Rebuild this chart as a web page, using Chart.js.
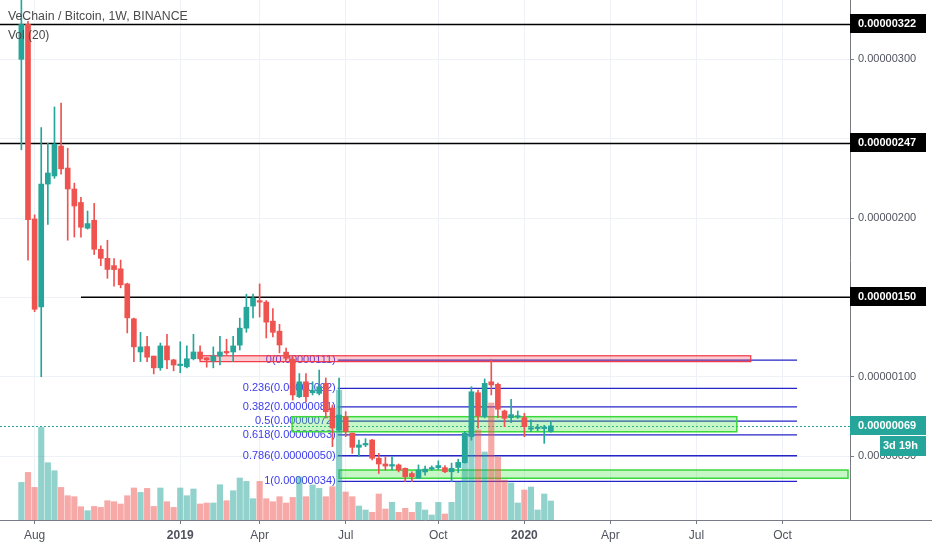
<!DOCTYPE html>
<html>
<head>
<meta charset="utf-8">
<script src="https://cdn.jsdelivr.net/npm/chart.js@4.4.1/dist/chart.umd.min.js"></script>
<style>
  html, body { margin: 0; padding: 0; background: #fff; }
  #wrap { width: 932px; height: 550px; }
</style>
</head>
<body>
<div id="wrap"><canvas id="chart" width="932" height="550"></canvas></div>
<script>
const ctx = document.getElementById('chart').getContext('2d');
const FONT = "'Liberation Sans', Arial, sans-serif";

// weekly candles VET/BTC, prices in satoshi (1e-8 BTC), first bar = Jul 2018
const opens  = [300, 322, 199.4, 144, 221.4, 226.5, 245.4, 231.5, 218.3, 209.8,
                193.6, 198.6, 180.3, 174.6, 170, 168, 158.5, 136.5, 115.6, 119,
                113, 105.6, 119.4, 110.6, 107, 106.2, 111.3, 115.6, 111.9, 110,
                113, 115.6, 115.6, 119.9, 130.6, 144.5, 147.7, 147, 135, 128.7,
                115.5, 111, 87.4, 96.8, 89.9, 89.5, 95.8, 80.3, 66.4, 74.8,
                64.4, 55.5, 57, 60.1, 48.6, 45, 43.7, 44.4, 42.3, 39,
                36, 40, 41.8, 42.7, 42.7, 40.1, 42.8, 45.8, 62.2, 89.9,
                74.8, 96.8, 95.2, 78.4, 74.2, 74.5, 74.2, 66.9, 67.3, 67.3,
                65.4];
const highs  = [345, 324, 202, 257, 247, 270, 272.4, 244, 222, 213,
                204.4, 209.2, 182.5, 186, 174.5, 173.5, 159, 137, 128, 125.4,
                113, 121.2, 126.7, 111, 122, 119.4, 126.7, 119.4, 112, 118.8,
                125.4, 123.6, 125.4, 136.9, 152, 152, 158.5, 148, 143, 133,
                118, 112.5, 102, 102, 96.8, 104.2, 99.2, 82.2, 99.2, 78,
                64.5, 60, 61, 60.5, 51.7, 49.6, 49.6, 45, 42.5, 40,
                44.4, 43.7, 43.8, 47, 44, 45.6, 48, 65.4, 93.7, 91.6,
                98.6, 111, 96, 79, 85.8, 78.4, 77, 72.8, 70, 69.4,
                71.6];
const lows   = [243, 173.5, 141, 100, 196, 225, 227.7, 186, 188, 188,
                193, 177, 170, 162, 157, 156, 127.6, 109.5, 109.5, 109.5,
                101.8, 104, 105, 103.7, 102.5, 105.6, 110.6, 110.6, 106, 105.6,
                107.5, 114, 109.5, 116.9, 128, 137, 137.6, 124.4, 125, 115,
                110.8, 85.3, 86.8, 84.2, 88.5, 88.5, 74, 55.9, 65.4, 62.2,
                51.7, 49.6, 55.9, 47.5, 39, 41.2, 41.2, 40, 33.8, 33.8,
                35.8, 38, 41, 41.5, 39.5, 33.8, 39.6, 45.6, 60, 67.5,
                74, 88.5, 74.2, 68.5, 71, 73.7, 62.2, 65.4, 66, 58,
                65];
const closes = [322, 199, 142.5, 221.4, 228.4, 246.6, 231, 218.3, 207.6, 194.2,
                196.5, 180.3, 174.6, 167.6, 167.5, 157.9, 137.1, 118.8, 118.8, 112.3,
                105.6, 119.4, 110.6, 107.4, 107.8, 111.3, 115.6, 111.3, 110.6, 113,
                115.6, 115, 119.4, 130.6, 143.8, 149.6, 147, 134.4, 128, 120,
                111.6, 88.5, 96.8, 87.4, 91.3, 93.7, 77.9, 67.7, 75.8, 65.4,
                55.5, 57, 57.4, 48.6, 45, 43.7, 44.4, 41.2, 37, 37,
                41.2, 41.8, 42.7, 44, 40.1, 42.3, 46, 64.4, 90.5, 75.2,
                95.8, 94.8, 79.5, 73.8, 76.1, 75.4, 68.5, 67.7, 67.6, 67.8,
                69];
// volume, millions VET
const volumes = [376, 476, 326, 926, 573, 493, 326, 243, 233, 133,
                 93, 136, 126, 193, 183, 160, 243, 320, 276, 316,
                 136, 320, 183, 126, 320, 243, 310, 160, 170, 170,
                 353, 193, 293, 420, 386, 213, 386, 213, 183, 233,
                 170, 226, 430, 233, 350, 316, 233, 333, 1300, 280,
                 233, 140, 100, 77, 260, 110, 177, 77, 117, 77,
                 177, 100, 50, 177, 60, 177, 380, 840, 880, 900,
                 680, 1170, 630, 400, 370, 170, 300, 330, 100, 260,
                 190];

// time axis labels (bar index of first bar of the month)
const xTickIdx    = [2, 24, 36, 49, 63, 76, 89, 102, 115];
const xTickLabels = ['Aug', '2019', 'Apr', 'Jul', 'Oct', '2020', 'Apr', 'Jul', 'Oct'];
const yTicks = [50, 100, 150, 200, 250, 300];

// drawings on the chart (bar index, price)
const levelPrices = [322, 247, 150];
const levelStart  = [-4, -4, 9];
const redZone   = { from: 27, to: 110.2, top: 113.2, bottom: 109.5 };
const greenZones = [
  { from: 40.9, to: 108.1, top: 74.8, bottom: 65.3 },
  { from: 48, to: 124.9, top: 41.2, bottom: 36 }
];
const fibLabels = ['0(0.00000111)', '0.236(0.00000092)', '0.382(0.00000081)', '0.5(0.00000072)',
                   '0.618(0.00000063)', '0.786(0.00000050)', '1(0.00000034)'];
const fibPrices = [110.5, 92.7, 81, 72, 63.3, 50.2, 34];
const fibFrom = 47.8, fibTo = 117.2;
const countdown = '3d 19h';

const UP = '#26a69a', DOWN = '#ef5350';
const idx = opens.map((_, i) => i);
const isUp = idx.map(i => closes[i] >= opens[i]);
const lastPrice = closes[closes.length - 1];
const fmt = v => (v / 1e8).toFixed(8);

const drawings = {
  id: 'drawings',
  // TradingView puts these under the candles
  beforeDatasetsDraw(chart) {
    const { ctx, chartArea: a, scales: { x, y } } = chart;
    ctx.save();
    ctx.beginPath();
    ctx.rect(a.left, a.top, a.right - a.left, a.bottom - a.top);
    ctx.clip();

    // last price dotted line
    ctx.strokeStyle = UP;
    ctx.lineWidth = 1;
    ctx.setLineDash([2, 2]);
    ctx.beginPath();
    ctx.moveTo(a.left, Math.round(y.getPixelForValue(lastPrice)) + 0.5);
    ctx.lineTo(a.right, Math.round(y.getPixelForValue(lastPrice)) + 0.5);
    ctx.stroke();
    ctx.setLineDash([]);

    // horizontal levels
    ctx.strokeStyle = '#000';
    ctx.lineWidth = 1.5;
    levelPrices.forEach((p, i) => {
      const py = y.getPixelForValue(p);
      ctx.beginPath();
      ctx.moveTo(x.getPixelForValue(levelStart[i]), py);
      ctx.lineTo(a.right, py);
      ctx.stroke();
    });

    // fib retracement
    ctx.strokeStyle = '#2424c8';
    ctx.lineWidth = 1.3;
    ctx.fillStyle = '#3b3bec';
    ctx.font = '11px ' + FONT;
    ctx.textAlign = 'right';
    ctx.textBaseline = 'middle';
    const fx0 = x.getPixelForValue(fibFrom), fx1 = x.getPixelForValue(fibTo);
    fibPrices.forEach((p, i) => {
      const py = y.getPixelForValue(p);
      ctx.beginPath();
      ctx.moveTo(fx0, py);
      ctx.lineTo(fx1, py);
      ctx.stroke();
      ctx.fillText(fibLabels[i], fx0 - 2, py);
    });

    // zones
    const box = (z, fill, stroke, w) => {
      const x0 = x.getPixelForValue(z.from), x1 = x.getPixelForValue(z.to);
      const y0 = y.getPixelForValue(z.top), y1 = y.getPixelForValue(z.bottom);
      ctx.fillStyle = fill;
      ctx.fillRect(x0, y0, x1 - x0, y1 - y0);
      ctx.strokeStyle = stroke;
      ctx.lineWidth = w;
      ctx.strokeRect(x0, y0, x1 - x0, y1 - y0);
    };
    box(redZone, 'rgba(242, 54, 69, 0.25)', '#f23645', 1.2);
    greenZones.forEach(z => box(z, 'rgba(70, 225, 70, 0.3)', '#3ad83a', 1.5));
    ctx.restore();
  },
  afterDraw(chart) {
    const { ctx, chartArea: a, scales: { y } } = chart;
    ctx.save();
    // bottom axis line under the price scale
    ctx.strokeStyle = '#787b86';
    ctx.lineWidth = 1;
    ctx.beginPath();
    ctx.moveTo(a.right, a.bottom + 0.5);
    ctx.lineTo(chart.width, a.bottom + 0.5);
    ctx.stroke();

    // title
    ctx.textAlign = 'left';
    ctx.textBaseline = 'middle';
    ctx.fillStyle = '#4a4a4a';
    ctx.font = '12.3px ' + FONT;
    ctx.fillText('VeChain / Bitcoin, 1W, BINANCE', 8, 17);
    ctx.font = '12px ' + FONT;
    ctx.fillText('Vol (20)', 8, 36);

    // price scale labels
    const tag = (p, bg, text) => {
      const py = Math.round(y.getPixelForValue(p));
      ctx.fillStyle = bg;
      ctx.fillRect(a.right, py - 10, 76, 19);
      ctx.fillStyle = '#fff';
      ctx.font = 'bold 11px ' + FONT;
      ctx.fillText(text, a.right + 8, py);
    };
    levelPrices.forEach(p => tag(p, '#000', fmt(p)));
    tag(lastPrice, UP, fmt(lastPrice));
    const py = Math.round(y.getPixelForValue(lastPrice));
    ctx.fillStyle = UP;
    ctx.fillRect(a.right + 30, py + 10, 46, 20);
    ctx.fillStyle = '#fff';
    ctx.font = 'bold 11px ' + FONT;
    ctx.fillText(countdown, a.right + 33, py + 20);
    ctx.restore();
  }
};

new Chart(ctx, {
  type: 'bar',
  data: {
    datasets: [
      {
        label: 'body',
        data: idx.map(i => ({ x: i, y: [opens[i], closes[i]] })),
        backgroundColor: idx.map(i => isUp[i] ? UP : DOWN),
        barThickness: 5,
        minBarLength: 1.5,
        grouped: false,
        order: 1
      },
      {
        label: 'wick',
        data: idx.map(i => ({ x: i, y: [lows[i], highs[i]] })),
        backgroundColor: idx.map(i => isUp[i] ? UP : DOWN),
        barThickness: 1,
        grouped: false,
        order: 2
      },
      {
        label: 'volume',
        yAxisID: 'vol',
        data: idx.map(i => ({ x: i, y: volumes[i] })),
        backgroundColor: idx.map(i => isUp[i] ? 'rgba(38,166,154,0.5)' : 'rgba(239,83,80,0.5)'),
        barThickness: 5.5,
        grouped: false,
        order: 3
      }
    ]
  },
  options: {
    responsive: false,
    animation: false,
    layout: { padding: 0 },
    plugins: { legend: { display: false }, tooltip: { enabled: false } },
    scales: {
      x: {
        type: 'linear',
        min: -3.23,
        max: 125.2,
        offset: false,
        afterFit(s) { s.height = 30; s.paddingLeft = 0; s.paddingRight = 0; },
        afterBuildTicks(s) { s.ticks = xTickIdx.map(v => ({ value: v })); },
        ticks: {
          autoSkip: false,
          maxRotation: 0,
          padding: 4,
          color: '#50535e',
          font: c => ({ size: 12, family: FONT, weight: /^\d{4}$/.test(xTickLabels[c.index]) ? 'bold' : 'normal' }),
          callback: (v, i) => xTickLabels[i]
        },
        grid: { color: '#eef1f6', offset: false, tickLength: 4, tickColor: '#787b86' },
        border: { color: '#787b86' }
      },
      y: {
        position: 'right',
        min: 9.7,
        max: 337.4,
        afterFit(s) { s.width = 82; s.paddingTop = 0; s.paddingBottom = 0; },
        afterBuildTicks(s) { s.ticks = yTicks.map(v => ({ value: v })); },
        ticks: {
          padding: 4,
          color: '#50535e',
          font: { size: 11, family: FONT },
          callback: v => fmt(v)
        },
        grid: { color: '#eef1f6', tickLength: 4, tickColor: '#787b86' },
        border: { color: '#787b86' }
      },
      vol: {
        display: false,
        min: 0,
        max: 5200
      }
    }
  },
  plugins: [drawings]
});
</script>
</body>
</html>
